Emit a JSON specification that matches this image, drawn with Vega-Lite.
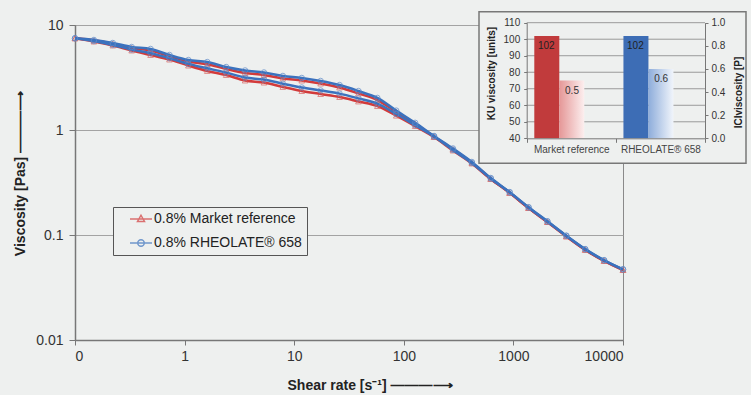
{
  "$schema": "https://vega.github.io/schema/vega-lite/v6.json",
  "width": 548,
  "height": 315,
  "autosize": "none",
  "padding": {"left": 75, "top": 25, "right": 128, "bottom": 55},
  "background": "#eef0ef",
  "config": {
    "font": "Liberation Sans",
    "view": {"stroke": "#8a8a8a", "strokeWidth": 1}
  },
  "datasets": {
    "market": [
      {"b":"up","x":0.1,"v":7.47},{"b":"up","x":0.1487,"v":7.14},{"b":"up","x":0.2212,"v":6.65},{"b":"up","x":0.329,"v":6.05},{"b":"up","x":0.4894,"v":5.72},{"b":"up","x":0.7279,"v":5.06},{"b":"up","x":1.083,"v":4.5},{"b":"up","x":1.61,"v":4.23},{"b":"up","x":2.395,"v":3.81},{"b":"up","x":3.562,"v":3.49},{"b":"up","x":5.298,"v":3.34},{"b":"up","x":7.88,"v":3.1},{"b":"up","x":11.72,"v":2.96},{"b":"up","x":17.43,"v":2.77},{"b":"up","x":25.93,"v":2.54},{"b":"up","x":38.57,"v":2.23},{"b":"up","x":57.37,"v":1.93},{"b":"up","x":85.32,"v":1.49},{"b":"up","x":126.9,"v":1.15},{"b":"up","x":188.8,"v":0.864},{"b":"up","x":280.8,"v":0.657},{"b":"up","x":417.6,"v":0.489},{"b":"up","x":621.1,"v":0.344},{"b":"up","x":923.8,"v":0.252},{"b":"up","x":1374,"v":0.181},{"b":"up","x":2044,"v":0.133},{"b":"up","x":3040,"v":0.097},{"b":"up","x":4522,"v":0.0722},{"b":"up","x":6725,"v":0.0566},{"b":"up","x":10000,"v":0.0464},
      {"b":"down","x":0.1,"v":7.47},{"b":"down","x":0.1487,"v":6.96},{"b":"down","x":0.2212,"v":6.38},{"b":"down","x":0.329,"v":5.72},{"b":"down","x":0.4894,"v":5.18},{"b":"down","x":0.7279,"v":4.69},{"b":"down","x":1.083,"v":4.11},{"b":"down","x":1.61,"v":3.65},{"b":"down","x":2.395,"v":3.34},{"b":"down","x":3.562,"v":2.96},{"b":"down","x":5.298,"v":2.83},{"b":"down","x":7.88,"v":2.57},{"b":"down","x":11.72,"v":2.35},{"b":"down","x":17.43,"v":2.2},{"b":"down","x":25.93,"v":2.06},{"b":"down","x":38.57,"v":1.87},{"b":"down","x":57.37,"v":1.69},{"b":"down","x":85.32,"v":1.37},{"b":"down","x":126.9,"v":1.09},{"b":"down","x":188.8,"v":0.858},{"b":"down","x":280.8,"v":0.638},{"b":"down","x":417.6,"v":0.48},{"b":"down","x":621.1,"v":0.341},{"b":"down","x":923.8,"v":0.252},{"b":"down","x":1374,"v":0.181},{"b":"down","x":2044,"v":0.133},{"b":"down","x":3040,"v":0.097},{"b":"down","x":4522,"v":0.0723},{"b":"down","x":6725,"v":0.0567},{"b":"down","x":10000,"v":0.0466}
    ],
    "rheo": [
      {"b":"up","x":0.1,"v":7.47},{"b":"up","x":0.1487,"v":7.2},{"b":"up","x":0.2212,"v":6.74},{"b":"up","x":0.329,"v":6.17},{"b":"up","x":0.4894,"v":5.91},{"b":"up","x":0.7279,"v":5.18},{"b":"up","x":1.083,"v":4.64},{"b":"up","x":1.61,"v":4.44},{"b":"up","x":2.395,"v":3.98},{"b":"up","x":3.562,"v":3.69},{"b":"up","x":5.298,"v":3.53},{"b":"up","x":7.88,"v":3.27},{"b":"up","x":11.72,"v":3.13},{"b":"up","x":17.43,"v":2.93},{"b":"up","x":25.93,"v":2.68},{"b":"up","x":38.57,"v":2.35},{"b":"up","x":57.37,"v":2.02},{"b":"up","x":85.32,"v":1.53},{"b":"up","x":126.9,"v":1.17},{"b":"up","x":188.8,"v":0.877},{"b":"up","x":280.8,"v":0.667},{"b":"up","x":417.6,"v":0.496},{"b":"up","x":621.1,"v":0.349},{"b":"up","x":923.8,"v":0.256},{"b":"up","x":1374,"v":0.184},{"b":"up","x":2044,"v":0.135},{"b":"up","x":3040,"v":0.0985},{"b":"up","x":4522,"v":0.0733},{"b":"up","x":6725,"v":0.0575},{"b":"up","x":10000,"v":0.0471},
      {"b":"down","x":0.1,"v":7.47},{"b":"down","x":0.1487,"v":7.03},{"b":"down","x":0.2212,"v":6.46},{"b":"down","x":0.329,"v":5.83},{"b":"down","x":0.4894,"v":5.39},{"b":"down","x":0.7279,"v":4.83},{"b":"down","x":1.083,"v":4.26},{"b":"down","x":1.61,"v":3.87},{"b":"down","x":2.395,"v":3.52},{"b":"down","x":3.562,"v":3.16},{"b":"down","x":5.298,"v":3.02},{"b":"down","x":7.88,"v":2.76},{"b":"down","x":11.72,"v":2.54},{"b":"down","x":17.43,"v":2.38},{"b":"down","x":25.93,"v":2.22},{"b":"down","x":38.57,"v":2.0},{"b":"down","x":57.37,"v":1.78},{"b":"down","x":85.32,"v":1.42},{"b":"down","x":126.9,"v":1.11},{"b":"down","x":188.8,"v":0.868},{"b":"down","x":280.8,"v":0.646},{"b":"down","x":417.6,"v":0.486},{"b":"down","x":621.1,"v":0.345},{"b":"down","x":923.8,"v":0.255},{"b":"down","x":1374,"v":0.183},{"b":"down","x":2044,"v":0.1346},{"b":"down","x":3040,"v":0.0982},{"b":"down","x":4522,"v":0.0732},{"b":"down","x":6725,"v":0.0574},{"b":"down","x":10000,"v":0.0471}
    ],
    "inset": [
      {"cat":"Market reference","m":"KU","val":102},
      {"cat":"RHEOLATE® 658","m":"KU","val":102},
      {"cat":"Market reference","m":"ICI","val":0.5},
      {"cat":"RHEOLATE® 658","m":"ICI","val":0.6}
    ]
  },
  "resolve": {
    "scale": {"x": "independent", "y": "independent", "xOffset": "independent"},
    "axis": {"x": "independent", "y": "independent"}
  },
  "layer": [
    {
      "data": {"name": "market"},
      "mark": {"type": "line", "interpolate": "monotone", "color": "#d23b3b", "strokeWidth": 2.5},
      "encoding": {
        "x": {"field": "x", "type": "quantitative", "scale": {"type": "log", "domain": [0.1, 10000]},
          "axis": {"orient": "bottom", "values": [0.1, 1, 10, 100, 1000, 10000], "labelExpr": "datum.value < 0.5 ? '0' : format(datum.value, 'd')", "grid": false, "tickSize": 5, "tickColor": "#777", "domainColor": "#777", "domainWidth": 1.5, "labelFont": "Liberation Sans", "labelFontSize": 14, "labelColor": "#333", "labelPadding": 4, "title": "Shear rate [s⁻¹]     ———⟶", "titleFont": "Liberation Sans", "titleFontSize": 14, "titleFontWeight": "bold", "titleColor": "#222", "titleX": 212, "titleY": 49, "titleAlign": "left", "titleBaseline": "alphabetic"}},
        "y": {"field": "v", "type": "quantitative", "scale": {"type": "log", "domain": [0.01, 10]},
          "axis": {"orient": "left", "values": [0.01, 0.1, 1, 10], "labelExpr": "datum.value >= 1 ? format(datum.value, 'd') : format(datum.value, '.2~f')", "grid": true, "gridColor": "#a3a3a3", "gridWidth": 1, "tickSize": 6, "tickColor": "#777", "domainColor": "#777", "domainWidth": 1.5, "labelFont": "Liberation Sans", "labelFontSize": 14, "labelColor": "#333", "labelPadding": 6, "title": "Viscosity [Pas]      ———⟶", "titleFont": "Liberation Sans", "titleFontSize": 14, "titleFontWeight": "bold", "titleColor": "#222", "titleAngle": 270, "titleX": -55, "titleY": 148, "titleAlign": "center", "titleBaseline": "middle"}},
        "detail": {"field": "b"}
      }
    },
    {
      "data": {"name": "market"},
      "mark": {"type": "point", "shape": "triangle-up", "filled": false, "color": "#d9625f", "size": 32, "strokeWidth": 1},
      "encoding": {
        "x": {"field": "x", "type": "quantitative", "scale": {"type": "log", "domain": [0.1, 10000]}, "axis": null},
        "y": {"field": "v", "type": "quantitative", "scale": {"type": "log", "domain": [0.01, 10]}, "axis": null}
      }
    },
    {
      "data": {"name": "rheo"},
      "mark": {"type": "line", "interpolate": "monotone", "color": "#3b72be", "strokeWidth": 2.5},
      "encoding": {
        "x": {"field": "x", "type": "quantitative", "scale": {"type": "log", "domain": [0.1, 10000]}, "axis": null},
        "y": {"field": "v", "type": "quantitative", "scale": {"type": "log", "domain": [0.01, 10]}, "axis": null},
        "detail": {"field": "b"}
      }
    },
    {
      "data": {"name": "rheo"},
      "mark": {"type": "point", "shape": "circle", "filled": false, "color": "#5b88c8", "size": 30, "strokeWidth": 1},
      "encoding": {
        "x": {"field": "x", "type": "quantitative", "scale": {"type": "log", "domain": [0.1, 10000]}, "axis": null},
        "y": {"field": "v", "type": "quantitative", "scale": {"type": "log", "domain": [0.01, 10]}, "axis": null}
      }
    },
    {
      "data": {"values": []},
      "mark": {"type": "point", "filled": false, "strokeWidth": 1.5},
      "encoding": {
        "color": {"field": "s", "type": "nominal",
          "scale": {"domain": ["0.8% Market reference", "0.8% RHEOLATE® 658"], "range": ["#d23b3b", "#3b72be"]},
          "legend": {"orient": "none", "legendX": 38, "legendY": 182, "title": null, "padding": 5, "strokeColor": "#555", "fillColor": "#eef0ef", "symbolSize": 100, "symbolStrokeWidth": 1.5, "symbolOffset": 16, "labelOffset": 6, "labelFont": "Liberation Sans", "labelFontSize": 14, "labelColor": "#222", "rowPadding": 10, "labelLimit": 400}},
        "shape": {"field": "s", "type": "nominal",
          "scale": {"domain": ["0.8% Market reference", "0.8% RHEOLATE® 658"], "range": ["M-2.2,0H2.2M0,-0.75L0.7,0.5L-0.7,0.5Z", "M-2.2,0H2.2M0.65,0A0.65,0.65,0,1,1,-0.65,0A0.65,0.65,0,1,1,0.65,0Z"]},
          "legend": {"orient": "none", "legendX": 38, "legendY": 182, "title": null, "padding": 5, "strokeColor": "#555", "fillColor": "#eef0ef", "symbolSize": 100, "symbolStrokeWidth": 1.5, "symbolOffset": 16, "labelOffset": 6, "labelFont": "Liberation Sans", "labelFontSize": 14, "labelColor": "#222", "rowPadding": 10, "labelLimit": 400}}
      }
    },
    {
      "data": {"values": [{"box": "inset"}]},
      "mark": {"type": "rect", "fill": "#eef0ef", "stroke": "#787878", "strokeWidth": 1.5},
      "encoding": {
        "x": {"datum": 0, "type": "quantitative", "scale": {"domain": [0, 1], "range": [404, 671]}, "axis": null},
        "x2": {"datum": 1},
        "y": {"datum": 0, "type": "quantitative", "scale": {"domain": [0, 1], "range": [138.3, -13.3]}, "axis": null},
        "y2": {"datum": 1}
      }
    },
    {
      "data": {"values": [{"g": 50}, {"g": 60}, {"g": 70}, {"g": 80}, {"g": 90}, {"g": 100}, {"g": 110}]},
      "mark": {"type": "rule", "color": "#9a9a9a", "strokeWidth": 1},
      "encoding": {
        "y": {"field": "g", "type": "quantitative", "scale": {"domain": [40, 110], "range": [113.3, -2.3]}, "axis": null},
        "x": {"datum": 0, "type": "quantitative", "scale": {"domain": [0, 1], "range": [451.7, 630]}, "axis": null},
        "x2": {"datum": 1}
      }
    },
    {
      "data": {"name": "inset"},
      "transform": [{"filter": "datum.m === 'KU'"}],
      "mark": {"type": "bar"},
      "encoding": {
        "x": {"field": "cat", "type": "nominal", "sort": null, "scale": {"range": [451.7, 630], "paddingInner": 0, "paddingOuter": 0},
          "axis": {"orient": "bottom", "offset": -201.7, "tickBand": "extent", "labelAngle": 0, "title": null, "labelFont": "Liberation Sans", "labelFontSize": 10, "labelColor": "#444", "labelPadding": 2, "tickSize": 4, "tickColor": "#777", "domainColor": "#777", "zindex": 1}},
        "xOffset": {"field": "m", "type": "nominal", "scale": {"domain": ["KU", "ICI"], "paddingInner": 0, "paddingOuter": 0.783, "align": 0.194}},
        "y": {"field": "val", "type": "quantitative", "scale": {"domain": [40, 110], "range": [113.3, -2.3], "zero": false},
          "axis": {"orient": "left", "offset": -451.7, "values": [40, 50, 60, 70, 80, 90, 100, 110], "grid": false, "tickSize": 3, "tickColor": "#777", "domainColor": "#777", "labelFont": "Liberation Sans", "labelFontSize": 10, "labelColor": "#333", "labelPadding": 4, "title": "KU viscosity [units]", "titleFont": "Liberation Sans", "titleFontSize": 10, "titleFontWeight": "bold", "titleColor": "#222", "titleAngle": 270, "titleX": -35, "titleY": 48, "titleAlign": "center", "titleBaseline": "middle", "zindex": 1}},
        "y2": {"datum": 40},
        "fill": {"condition": {"test": "datum.cat === 'Market reference'", "value": "#c13b3c"}, "value": "#3d6db5"}
      }
    },
    {
      "data": {"name": "inset"},
      "transform": [{"filter": "datum.m === 'ICI'"}],
      "mark": {"type": "bar"},
      "encoding": {
        "x": {"field": "cat", "type": "nominal", "sort": null, "scale": {"range": [451.7, 630], "paddingInner": 0, "paddingOuter": 0}, "axis": null},
        "xOffset": {"field": "m", "type": "nominal", "scale": {"domain": ["KU", "ICI"], "paddingInner": 0, "paddingOuter": 0.783, "align": 0.194}},
        "y": {"field": "val", "type": "quantitative", "scale": {"domain": [0, 1], "range": [113.3, -2.3]},
          "axis": {"orient": "right", "offset": 82, "values": [0, 0.2, 0.4, 0.6, 0.8, 1], "format": ".1f", "grid": false, "tickSize": 3, "tickColor": "#777", "domainColor": "#777", "labelFont": "Liberation Sans", "labelFontSize": 10, "labelColor": "#333", "labelPadding": 3, "title": "ICIviscosity [P]", "titleFont": "Liberation Sans", "titleFontSize": 10, "titleFontWeight": "bold", "titleColor": "#222", "titleAngle": 270, "titleX": 33, "titleY": 67, "titleAlign": "center", "titleBaseline": "middle", "zindex": 1}},
        "y2": {"datum": 0},
        "fill": {"condition": {"test": "datum.cat === 'Market reference'", "value": {"gradient": "linear", "stops": [{"offset": 0, "color": "#e59797"}, {"offset": 1, "color": "#fcefef"}]}},
          "value": {"gradient": "linear", "stops": [{"offset": 0, "color": "#8eaddb"}, {"offset": 1, "color": "#f1f5fb"}]}}
      }
    },
    {
      "data": {"name": "inset"},
      "transform": [{"filter": "datum.m === 'KU'"}],
      "mark": {"type": "text", "dy": 10, "dx": 9, "fontSize": 10, "color": "#222", "font": "Liberation Sans", "align": "center"},
      "encoding": {
        "x": {"field": "cat", "type": "nominal", "sort": null, "scale": {"range": [451.7, 630], "paddingInner": 0, "paddingOuter": 0}, "axis": null},
        "xOffset": {"field": "m", "type": "nominal", "scale": {"domain": ["KU", "ICI"], "paddingInner": 0, "paddingOuter": 0.783, "align": 0.194}},
        "y": {"field": "val", "type": "quantitative", "scale": {"domain": [40, 110], "range": [113.3, -2.3], "zero": false}, "axis": null},
        "text": {"field": "val", "type": "quantitative"}
      }
    },
    {
      "data": {"name": "inset"},
      "transform": [{"filter": "datum.m === 'ICI'"}],
      "mark": {"type": "text", "dy": 10, "fontSize": 10, "color": "#333", "font": "Liberation Sans", "align": "center"},
      "encoding": {
        "x": {"field": "cat", "type": "nominal", "sort": null, "scale": {"range": [451.7, 630], "paddingInner": 0, "paddingOuter": 0}, "axis": null},
        "xOffset": {"field": "m", "type": "nominal", "scale": {"domain": ["KU", "ICI"], "paddingInner": 0, "paddingOuter": 0.783, "align": 0.194}},
        "y": {"field": "val", "type": "quantitative", "scale": {"domain": [0, 1], "range": [113.3, -2.3]}, "axis": null},
        "text": {"field": "val", "type": "quantitative", "format": ".1f"}
      }
    }
  ]
}
